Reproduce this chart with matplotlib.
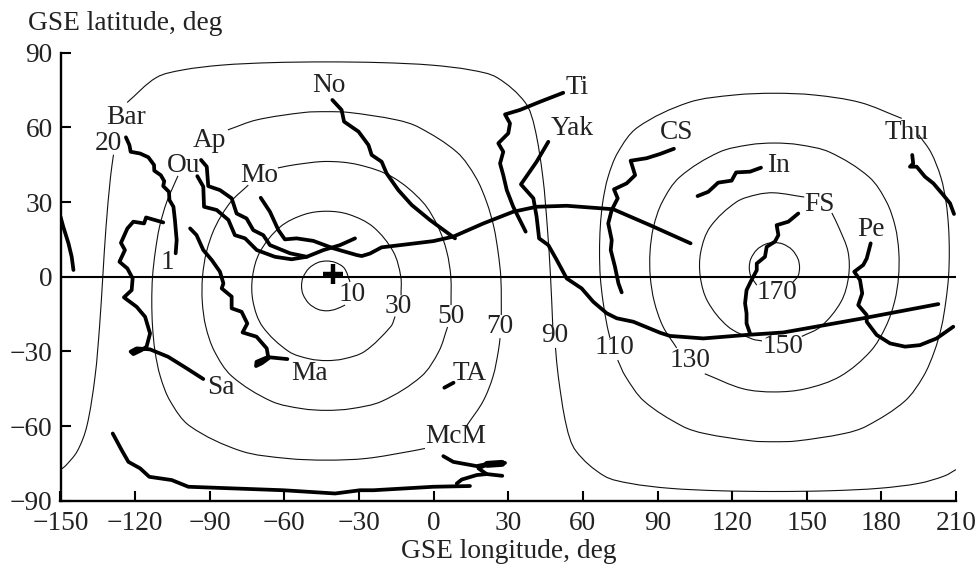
"""GSE map of station footprints with angular distance contours."""
import matplotlib
matplotlib.use("Agg")
import matplotlib.pyplot as plt
from matplotlib.patches import PathPatch
from matplotlib.path import Path
import numpy as np

plt.rcParams["font.family"] = ["Liberation Serif", "DejaVu Serif"]

TXT = "#222222"
FS = 19.7

x_ticks = list(range(-150, 211, 30))
y_ticks = list(range(-90, 91, 30))

# thin contours, split where the labels interrupt them
c10 = [(-33.6, -2.1), (-35.9, 3.4), (-39.5, 5.7), (-43, 6.3), (-46.5, 5.7), (-50.1, 3.4), (-52.5, -0.3), (-53.1, -3.7),
       (-52.5, -7.1), (-50.1, -10.8), (-46.5, -13.1), (-43, -13.7), (-39.5, -13.1), (-35.6, -11.4)]
c30 = [(-13.1, -7.5), (-13.2, 0), (-16.2, 10), (-24.3, 20), (-34, 25), (-43, 26.3), (-52, 25), (-61.7, 20), (-69.8, 10),
       (-72.8, 0), (-72.6, -10), (-68.8, -20), (-58.3, -30), (-49.9, -33), (-43, -33.7), (-36.1, -33), (-27.7, -30),
       (-17.2, -20), (-15.5, -16)]
c50_a = [(-62.6, 43.7), (-55.7, 45), (-43, 46.3), (-30.3, 45), (-16.5, 40), (-4.4, 30), (1.8, 20), (5.3, 10), (6.9, 0),
         (7.0, -11.4)]
c50_b = [(5.6, -20.2), (2.1, -30), (-4.9, -40), (-20.7, -50), (-33, -53), (-43, -53.7), (-53, -53), (-65.3, -50),
         (-81.1, -40), (-88.1, -30), (-91.6, -20), (-93, -10), (-92.9, 0), (-91.3, 10), (-87.8, 20), (-81.6, 30),
         (-74.5, 36.8)]
c70_a = [(-82.7, 59), (-71.1, 63), (-51.9, 66), (-43, 66.3), (-34.1, 66), (-14.9, 63), (-5.9, 60), (9.4, 50), (16.9, 40),
         (21.3, 30), (24.2, 20), (25.9, 10), (27, 0), (27.2, -10), (27.2, -15.4)]
c70_b = [(26.7, -24.7), (26, -30), (23.9, -40), (19.9, -50), (13.4, -59.7)]
c70_c = [(-3.5, -69), (-8.5, -70), (-26.9, -73), (-43, -73.7), (-59.1, -73), (-77.5, -70), (-98, -60), (-105.9, -50),
         (-109.9, -40), (-112, -30), (-113, -20), (-113.3, -10), (-113, 0), (-111.9, 10), (-110.2, 20), (-107.3, 30),
         (-102.8, 40.5)]
c90_a = [(-123.2, 70), (-111.5, 80), (-101.2, 83), (-85.3, 85), (-65.3, 86), (-43, 86.3), (-20.7, 86), (-0.7, 85),
         (15.2, 83), (25.5, 80), (36.8, 70), (40.6, 60), (43.9, 40), (45.7, 20), (47, 0), (47.9, -20)]
c90_b = [(49, -28.6), (50.1, -40), (53.4, -60), (57.2, -70), (68.5, -80), (78.8, -83), (94.7, -85), (114.7, -86),
         (137, -86.3), (159.3, -86), (179.3, -85), (195.2, -83), (205.5, -80), (210, -77.5)]
c90_c = [(-128.7, 49), (-129.9, 40), (-131.7, 20), (-133, 0), (-134.3, -20), (-136.1, -40), (-139.4, -60), (-143.2, -70),
         (-148, -76), (-150, -77.5)]
c110_a = [(188.2, 63.6), (171.5, 70), (153.1, 73), (137, 73.7), (120.9, 73), (102.5, 70), (82, 60), (74.1, 50), (70.1, 40),
          (68, 30), (67, 20), (66.7, 10), (67, 0), (68.1, -10), (69.8, -20), (70.9, -24.6)]
c110_b = [(74, -33.5), (77.1, -40), (84.6, -50), (99.9, -60), (108.9, -63), (128.1, -66), (137, -66.3), (145.9, -66),
          (165.1, -63), (174.1, -60), (189.4, -50), (196.9, -40), (201.3, -30), (204.2, -20), (205.9, -10), (207, 0),
          (207.3, 10), (207, 20), (206, 30), (203.9, 40), (199.9, 50), (195, 57)]
c130 = [(97.7, -28.6), (92.2, -20), (88.7, -10), (87.1, 0), (87, 10), (88.4, 20), (91.9, 30), (98.9, 40), (114.7, 50),
        (127, 53), (137, 53.7), (147, 53), (159.3, 50), (175.1, 40), (182.1, 30), (185.6, 20), (187, 10), (186.9, 0),
        (185.3, -10), (181.8, -20), (175.6, -30), (163.5, -40), (149.7, -45), (137, -46.3), (124.3, -45), (109, -39)]
c150_a = [(132, -25.8), (128, -25), (118.3, -20), (110.2, -10), (107.2, 0), (107.4, 10), (111.2, 20), (121.7, 30),
          (130.1, 33), (137, 33.7), (149, 32)]
c150_b = [(160.1, 25.6), (162.8, 20), (166.6, 10), (166.8, 0), (163.8, -10), (155.7, -20), (148, -24)]
c170 = [(129.9, -3.4), (127.5, 0.3), (126.9, 3.7), (127.5, 7.1), (129.9, 10.8), (133.5, 13.1), (137, 13.7), (140.5, 13.1),
        (144.1, 10.8), (146.5, 7.1), (147.1, 3.7), (146.5, 0.3), (144.5, -2.1)]
contours = [c10, c30, c50_a, c50_b, c70_a, c70_b, c70_c, c90_a, c90_b, c90_c,
            c110_a, c110_b, c130, c150_a, c150_b, c170]

# heavy station tracks
bar = [(-123.7, 56.0), (-122.3, 52.9), (-121.8, 50.2), (-118.0, 49.5), (-114.7, 48.0), (-112.4, 44.9), (-112.3, 42.6),
       (-109.7, 40.8), (-108.3, 38.4), (-108.7, 36.4), (-106.4, 34.1), (-106.2, 30.8), (-104.6, 28.1), (-104.0, 22.8),
       (-103.3, 14.7), (-103.7, 9.4)]
edge = [(-150, 24.1), (-148.9, 20.1), (-146.8, 13.4), (-145.5, 8.0), (-144.8, 2.7)]
sa = [(-108.7, 21.8), (-115.6, 23.8), (-116.4, 21.4), (-120.7, 22.1), (-123.1, 19.4), (-125.7, 13.6), (-124.1, 10.7),
      (-126.3, 6.0), (-123.1, 3.3), (-121.0, -0.7), (-121.4, -5.4), (-124.5, -8.3), (-119.4, -12.1), (-116.0, -16.1),
      (-114.0, -22.8), (-115.4, -28.1), (-117.4, -29.5), (-120.7, -31.1), (-121.8, -30.1), (-119.4, -28.8), (-114.0, -29.2),
      (-106.7, -32.2), (-99.3, -36.8), (-92.6, -41.1)]
ma = [(-97.9, 19.4), (-95.3, 16.7), (-92.6, 10.7), (-89.2, 6.7), (-85.9, 2.0), (-84.5, -2.7), (-85.2, -4.7), (-81.2, -8.0),
      (-81.2, -12.7), (-77.2, -14.1), (-74.9, -18.8), (-76.8, -22.4), (-71.2, -24.1), (-67.1, -28.8), (-66.5, -32.2),
      (-71.2, -34.2), (-71.4, -35.9), (-69.1, -34.8), (-65.8, -32.4), (-58.8, -33.1)]
ap = [(-93.5, 46.9), (-91.2, 44.2), (-90.6, 36.4), (-85.9, 34.8), (-81.2, 31.5), (-79.2, 25.4), (-75.2, 23.4), (-72.5, 18.7),
      (-68.5, 16.7), (-65.8, 12.7), (-57.7, 9.4), (-51.0, 8.0), (-44.3, 10.7), (-37.6, 12.7), (-31.6, 15.4)]
ou = [(-95.0, 40.4), (-92.6, 36.2), (-92.3, 28.1), (-87.2, 26.8), (-82.5, 22.8), (-79.9, 16.7), (-75.8, 15.4), (-71.1, 10.7),
      (-63.8, 8.0), (-57.1, 7.0), (-51.0, 8.0)]
mo = [(-69.5, 31.7), (-65.8, 26.1), (-62.4, 18.7), (-59.8, 15.0), (-55.1, 15.4), (-48.4, 14.4), (-40.3, 11.4), (-30.9, 8.7),
      (-28.9, 8.3), (-25.6, 9.3), (-20.9, 11.8), (-10.8, 13.0), (-0.1, 14.3), (7.9, 16.1), (20.0, 21.4), (32.0, 26.1),
      (41.4, 28.1), (53.5, 28.5), (64.2, 27.7), (72.2, 27.1), (87.0, 20.7), (103.3, 13.4)]
no = [(-40.7, 71.0), (-37.0, 67.0), (-36.0, 62.3), (-30.2, 58.3), (-26.2, 52.9), (-24.9, 48.9), (-20.9, 46.2), (-18.9, 41.5),
      (-14.2, 34.8), (-8.8, 28.8), (-1.5, 22.8), (8.6, 15.4)]
ti = [(52.1, 73.9), (42.8, 70.3), (34.7, 67.0), (28.7, 65.2), (30.7, 61.6), (30.0, 57.6), (26.0, 53.6), (28.0, 50.2),
      (26.7, 45.5), (28.0, 40.8), (29.4, 34.8), (32.0, 28.1), (34.0, 24.1), (37.0, 18.1)]
yak = [(46.1, 54.2), (41.4, 46.2), (35.1, 37.1), (40.1, 31.5), (41.4, 24.1), (42.4, 15.4), (46.1, 12.7), (49.5, 6.7),
       (53.5, -0.7), (59.5, -4.7), (64.2, -10.1), (69.6, -14.7), (73.6, -16.7), (80.3, -18.1), (91.0, -22.5), (95.0, -23.8),
       (108.4, -24.8), (125.8, -23.4), (140.6, -22.4), (155.3, -19.8), (172.7, -16.7), (202.9, -11.0)]
cs = [(96.6, 51.4), (91.0, 49.3), (85.6, 47.6), (79.2, 46.6), (81.0, 40.8), (77.6, 37.5), (72.5, 35.1), (74.0, 31.5),
      (71.6, 26.8), (70.2, 21.4), (71.6, 14.7), (71.2, 10.7), (72.9, 4.0), (74.3, -2.7), (75.6, -6.3)]
in_ = [(131.6, 43.8), (127.2, 42.2), (121.6, 41.9), (119.8, 38.6), (114.4, 37.8), (110.4, 34.1), (106.1, 32.4)]
fs = [(146.6, 25.4), (142.6, 22.1), (137.9, 20.7), (138.6, 16.7), (137.2, 14.1), (133.9, 12.0), (133.2, 8.0), (129.9, 5.3),
      (129.9, 2.6), (127.8, -1.3), (125.8, -5.4), (125.2, -10.7), (125.8, -14.7), (125.8, -18.8), (127.2, -22.8)]
pe = [(175.7, 13.4), (174.1, 7.3), (172.7, 4.7), (169.1, 2.0), (171.4, -1.3), (172.3, -6.7), (170.7, -11.4), (174.1, -15.4),
      (174.1, -18.1), (178.1, -23.4), (183.5, -26.8), (189.5, -28.1), (195.5, -27.5), (202.2, -24.8), (208.9, -20.1)]
thu = [(192.4, 48.9), (192.8, 45.5), (191.5, 44.2), (194.2, 44.2), (197.5, 40.2), (200.9, 37.5), (204.9, 32.8),
       (207.6, 29.5), (209.2, 25.2)]
ta = [(4.3, -44.6), (8.0, -42.6)]
bottom = [(-129.0, -63.0), (-125.4, -69.7), (-122.7, -74.4), (-118.0, -77.0), (-114.3, -80.4), (-105.3, -81.7), (-98.6, -84.4),
          (-60.4, -85.8), (-39.6, -87.1), (-29.6, -85.8), (-24.2, -85.8), (-0.1, -84.4), (14.6, -84.1)]
mcm_low = [(9.3, -83.1), (11.3, -81.5), (17.3, -79.7), (21.3, -79.3), (27.6, -80.0)]
mcm_top = [(3.9, -72.1), (7.9, -74.4), (17.3, -76.1), (22.7, -75.0), (28.7, -74.8)]
mcm_link = [(22.7, -75.0), (18.0, -77.0), (21.3, -79.3)]
mcm_blob = [(21.5, -75.4), (27.5, -75.0)]
tracks = [bar, edge, sa, ma, ap, ou, mo, no, ti, yak, cs, in_, fs, pe, thu, ta, bottom, mcm_low, mcm_top, mcm_link]

sun_pos = (-40.4, 1.1)

labels = [("Bar", -123.7, 63.8), ("20", -130.9, 53.7), ("Ap", -90.3, 54.9), ("Ou", -100.7, 44.5), ("Mo", -70.2, 40.5),
          ("1", -107.2, 5.9), ("No", -42.0, 77.0), ("Ti", 57.6, 76.2), ("Yak", 55.6, 59.7), ("CS", 97.8, 58.1),
          ("In", 138.8, 44.5), ("Thu", 189.9, 58.1), ("FS", 154.9, 29.2), ("Pe", 175.8, 18.8), ("10", -32.8, -7.0),
          ("30", -14.3, -11.8), ("50", 7.0, -15.8), ("70", 26.7, -20.2), ("90", 48.8, -23.8), ("110", 72.9, -28.6),
          ("130", 103.1, -33.5), ("150", 140.5, -28.2), ("170", 138.0, -6.4), ("Sa", -85.5, -44.7), ("Ma", -50.1, -38.7),
          ("TA", 14.6, -38.7), ("McM", 9.0, -64.4)]


def smooth_path(pts):
    """Bezier path through the read points, handles a third of each segment."""
    p = np.array(pts, dtype=float)
    tang = np.zeros_like(p)
    tang[1:-1] = p[2:] - p[:-2]
    tang[0] = p[1] - p[0]
    tang[-1] = p[-1] - p[-2]
    tang /= np.linalg.norm(tang, axis=1, keepdims=True)
    verts = [p[0]]
    codes = [Path.MOVETO]
    for i in range(len(p) - 1):
        d = np.linalg.norm(p[i + 1] - p[i]) / 3
        verts += [p[i] + tang[i] * d, p[i + 1] - tang[i + 1] * d, p[i + 1]]
        codes += [Path.CURVE4] * 3
    return Path(verts, codes)


fig = plt.figure(figsize=(9.77, 5.66), dpi=100)
ax = fig.add_axes([60.5 / 977, (566 - 500.7) / 566, 895.5 / 977, 448 / 566])

for c in contours:
    ax.add_patch(PathPatch(smooth_path(c), fc="none", ec="#111111", lw=0.8))

ax.axhline(0, color="black", lw=1.5)

for t in tracks:
    ax.plot(*zip(*t), color="black", lw=2.7, solid_joinstyle="round", solid_capstyle="round")
ax.plot(*zip(*mcm_blob), color="black", lw=5, solid_capstyle="round")
ax.plot(*sun_pos, marker="+", color="black", ms=15, mew=3.2)

for s, x, y in labels:
    ax.text(x, y, s, ha="center", va="center", fontsize=FS, color=TXT)

ax.set_xlim(-150, 210)
ax.set_ylim(-90, 90)
ax.set_xticks(x_ticks)
ax.set_yticks(y_ticks)
ax.set_xticklabels([str(v).replace("-", "\u2212") for v in x_ticks])
ax.set_yticklabels([str(v).replace("-", "\u2212") for v in y_ticks])
ax.tick_params(direction="in", length=7, width=1.5, labelsize=FS, labelcolor=TXT)
ax.tick_params(axis="x", pad=7.5)
ax.tick_params(axis="y", pad=5.5)
for side in ("top", "right"):
    ax.spines[side].set_visible(False)
for side in ("left", "bottom"):
    ax.spines[side].set_linewidth(1.7)

fig.text(508.5 / 977, 1 - 552 / 566, "GSE longitude, deg", ha="center", va="center", fontsize=FS, color=TXT)
fig.text(28 / 977, 1 - 23 / 566, "GSE latitude, deg", ha="left", va="center", fontsize=FS, color=TXT)

fig.savefig("out.png", dpi=100)
